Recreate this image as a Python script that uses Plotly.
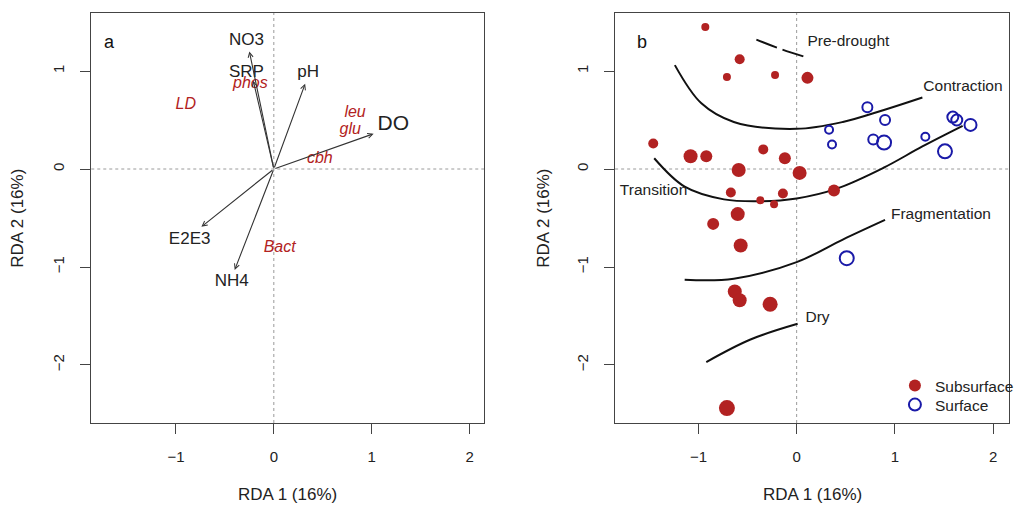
import plotly.graph_objects as go

# ---------------- Panel a: RDA biplot ----------------
# Environmental vectors (arrow tips) and where their labels sit
env_names = ["NO3", "SRP", "pH", "DO", "E2E3", "NH4"]
env_x = [-0.25, -0.21, 0.32, 1.02, -0.74, -0.40]
env_y = [1.20, 0.90, 0.87, 0.36, -0.59, -1.03]
env_label_x = [-0.28, -0.28, 0.35, 1.22, -0.86, -0.43]
env_label_y = [1.31, 0.98, 0.98, 0.45, -0.72, -1.15]
env_label_size = [17, 17, 17, 21, 17, 17]

# Response variables (red italic labels)
resp_names = ["LD", "phos", "leu", "glu", "cbh", "Bact"]
resp_x = [-0.90, -0.24, 0.83, 0.78, 0.47, 0.06]
resp_y = [0.65, 0.87, 0.57, 0.40, 0.10, -0.81]

# ---------------- Panel b: site scores ----------------
sub_x = [-0.93, -0.58, -0.71, -0.22, 0.11, -1.46, -1.08, -0.92, -0.34, -0.12,
         -0.59, 0.03, -0.67, -0.37, -0.23, -0.14, 0.38, -0.60, -0.85, -0.57,
         -0.63, -0.58, -0.27, -0.71]
sub_y = [1.45, 1.12, 0.94, 0.96, 0.93, 0.26, 0.13, 0.13, 0.20, 0.11,
         -0.01, -0.04, -0.24, -0.32, -0.36, -0.25, -0.22, -0.46, -0.56, -0.78,
         -1.25, -1.34, -1.38, -2.44]
sub_size = [8, 10, 8, 8, 12, 10, 14, 12, 10, 12,
            14, 14, 10, 8, 8, 10, 12, 14, 12, 14,
            14, 14, 15, 16]

surf_x = [0.72, 0.90, 0.33, 0.36, 0.78, 0.89, 1.31, 1.51, 1.59, 1.63, 1.77, 0.51]
surf_y = [0.63, 0.50, 0.40, 0.25, 0.30, 0.27, 0.33, 0.18, 0.53, 0.50, 0.45, -0.91]
surf_size = [10, 10, 8, 8, 10, 14, 8, 14, 11, 11, 12, 14]

# Hydrological phase boundaries
predrought_x = [-0.41, -0.15, 0.10]
predrought_y = [1.32, 1.22, 1.14]
contraction_x = [-1.24, -0.97, -0.64, 0.00, 0.47, 0.88, 1.28]
contraction_y = [1.06, 0.67, 0.48, 0.41, 0.48, 0.60, 0.73]
transition_x = [-1.45, -1.14, -0.74, -0.40, 0.00, 0.41, 0.88, 1.28, 1.69]
transition_y = [0.11, -0.18, -0.31, -0.33, -0.30, -0.20, 0.01, 0.23, 0.44]
fragmentation_x = [-1.14, -0.64, 0.00, 0.47, 0.90]
fragmentation_y = [-1.13, -1.12, -0.95, -0.72, -0.52]
dry_x = [-0.92, -0.47, 0.01]
dry_y = [-1.97, -1.74, -1.58]

phase_names = ["Pre-drought", "Contraction", "Transition", "Fragmentation", "Dry"]
phase_label_x = [0.11, 1.29, -1.80, 0.96, 0.09]
phase_label_y = [1.29, 0.84, -0.23, -0.47, -1.52]

ticks = [-1, 0, 1, 2]
yticks = [-2, -1, 0, 1]

RED = "#B22222"
BLUE = "#1A1AA8"
INK = "#222222"
FRAME = "#444444"
FONT = "Liberation Sans, Arial, sans-serif"

W, H = 1019, 506
xdom_a = [92 / W, 488 / W]
xdom_b = [620 / W, 1017 / W]
ydom = [1 - 423 / H, 1 - 13 / H]

fig = go.Figure()

# Panel a: label text for vectors and responses
fig.add_trace(go.Scatter(
    x=env_label_x, y=env_label_y, text=env_names, mode="text",
    textfont=dict(size=env_label_size, color=INK, family=FONT),
    showlegend=False, hoverinfo="skip", xaxis="x", yaxis="y"))
fig.add_trace(go.Scatter(
    x=resp_x, y=resp_y, text=[f"<i>{n}</i>" for n in resp_names], mode="text",
    textfont=dict(size=16, color=RED, family=FONT),
    showlegend=False, hoverinfo="skip", xaxis="x", yaxis="y"))

# Panel b: phase boundary curves
curves = [(predrought_x, predrought_y, "22px,6px"),
          (contraction_x, contraction_y, "solid"),
          (transition_x, transition_y, "solid"),
          (fragmentation_x, fragmentation_y, "solid"),
          (dry_x, dry_y, "solid")]
for cx, cy, dash in curves:
    fig.add_trace(go.Scatter(
        x=cx, y=cy, mode="lines",
        line=dict(color="#111111", width=2, shape="spline", smoothing=1.0, dash=dash),
        showlegend=False, hoverinfo="skip", xaxis="x2", yaxis="y2"))

fig.add_trace(go.Scatter(
    x=phase_label_x, y=phase_label_y, text=phase_names, mode="text",
    textposition="middle right",
    textfont=dict(size=15.5, color=INK, family=FONT),
    showlegend=False, hoverinfo="skip", xaxis="x2", yaxis="y2"))

# Panel b: site points, each group with its own legend box
fig.add_trace(go.Scatter(
    x=sub_x, y=sub_y, mode="markers", name="Subsurface", legend="legend",
    marker=dict(symbol="circle", size=sub_size, color=RED, opacity=1,
                line=dict(width=0)),
    xaxis="x2", yaxis="y2"))
fig.add_trace(go.Scatter(
    x=surf_x, y=surf_y, mode="markers", name="Surface", legend="legend2",
    marker=dict(symbol="circle-open", size=surf_size, color=BLUE, opacity=1,
                line=dict(width=2, color=BLUE)),
    xaxis="x2", yaxis="y2"))

# Biplot arrows from the origin
annotations = []
for ex, ey in zip(env_x, env_y):
    annotations.append(dict(
        x=ex, y=ey, ax=0, ay=0, xref="x", yref="y", axref="x", ayref="y",
        text="", showarrow=True, arrowhead=5, arrowsize=0.9, arrowwidth=1.1,
        arrowcolor="#333333"))

# Panel letters
annotations.append(dict(x=(110 - 92) / 396, y=(423 - 42) / 410, xref="x domain", yref="y domain",
                        text="a", showarrow=False, xanchor="center", yanchor="middle",
                        font=dict(size=18, color="#111", family=FONT)))
annotations.append(dict(x=(647 - 620) / 397, y=(423 - 42) / 410, xref="x2 domain", yref="y2 domain",
                        text="b", showarrow=False, xanchor="center", yanchor="middle",
                        font=dict(size=18, color="#111", family=FONT)))

# Axis titles
for xc in [(xdom_a[0] + xdom_a[1]) / 2, (xdom_b[0] + xdom_b[1]) / 2]:
    annotations.append(dict(x=xc, y=1 - 494 / H, xref="paper", yref="paper",
                            text="RDA 1 (16%)", showarrow=False,
                            xanchor="center", yanchor="middle",
                            font=dict(size=17, color=INK, family=FONT)))
for xc in [18 / W, 548 / W]:
    annotations.append(dict(x=xc, y=1 - 218 / H, xref="paper", yref="paper",
                            text="RDA 2 (16%)", showarrow=False, textangle=-90,
                            xanchor="center", yanchor="middle",
                            font=dict(size=17, color=INK, family=FONT)))

# Dotted reference lines through the origin
shapes = []
for xr, yr in [("x", "y"), ("x2", "y2")]:
    shapes.append(dict(type="line", xref=xr, yref=f"{yr} domain", x0=0, x1=0, y0=0, y1=1,
                       line=dict(color="#9a9a9a", width=1, dash="dot"), layer="below"))
    shapes.append(dict(type="line", xref=f"{xr} domain", yref=yr, x0=0, x1=1, y0=0, y1=0,
                       line=dict(color="#9a9a9a", width=1, dash="dot"), layer="below"))

axis_common = dict(showgrid=False, zeroline=False, showline=True, linecolor=FRAME,
                   linewidth=1.3, mirror=True, ticks="outside", ticklen=10,
                   tickcolor=FRAME, tickwidth=1.3,
                   tickfont=dict(size=15, color=INK, family=FONT))

legend_common = dict(xanchor="left", yanchor="middle", bgcolor="rgba(0,0,0,0)",
                     itemsizing="constant", borderwidth=0,
                     font=dict(size=15.5, color=INK, family=FONT))

fig.update_layout(
    width=W, height=H, autosize=False,
    margin=dict(l=0, r=0, t=0, b=0),
    paper_bgcolor="white", plot_bgcolor="white",
    font=dict(family=FONT, color=INK),
    xaxis=dict(domain=xdom_a, range=[-1.865, 2.149], tickvals=ticks,
               ticklabelstandoff=10, anchor="y", **axis_common),
    yaxis=dict(domain=ydom, range=[-2.592, 1.592], tickvals=yticks, tickangle=-90,
               ticklabelstandoff=10, anchor="x", **axis_common),
    xaxis2=dict(domain=xdom_b, range=[-1.848, 2.162], tickvals=ticks,
                ticklabelstandoff=10, anchor="y2", **axis_common),
    yaxis2=dict(domain=ydom, range=[-2.592, 1.592], tickvals=yticks, tickangle=-90,
                ticklabelstandoff=10, anchor="x2", **axis_common),
    showlegend=True,
    legend=dict(x=902 / W, y=1 - 386 / H, **legend_common),
    legend2=dict(x=902 / W, y=1 - 405 / H, **legend_common),
    annotations=annotations,
    shapes=shapes,
)

fig.write_html("out.html")
